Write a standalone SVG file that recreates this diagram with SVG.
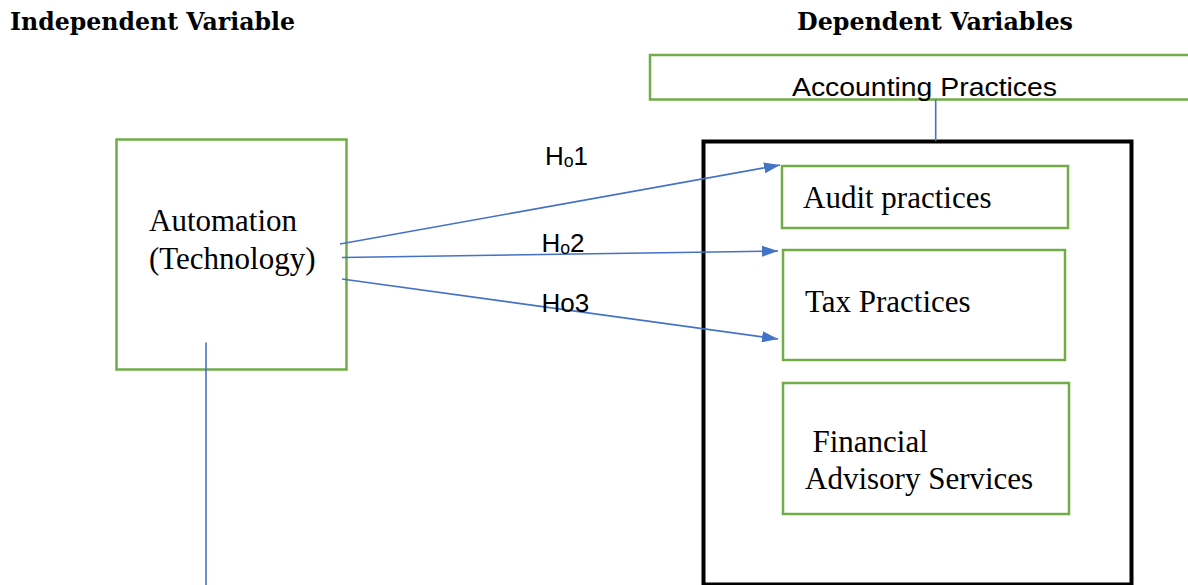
<svg xmlns="http://www.w3.org/2000/svg" width="1188" height="585" viewBox="0 0 1188 585">
<style>
.box{fill:#fff;stroke:#70AD47;stroke-width:2.5}
.hdr{font-family:"DejaVu Serif","Liberation Serif",serif;font-weight:bold;font-size:25px;fill:#000}
.ser{font-family:"Liberation Serif","Times New Roman",serif;font-size:31px;fill:#000}
.san{font-family:"Liberation Sans",Arial,sans-serif;font-size:26px;fill:#000}
.con{stroke:#4472C4;stroke-width:1.6;fill:none}
</style>
<defs>
<marker id="ah" markerUnits="userSpaceOnUse" viewBox="0 0 16 11" markerWidth="16" markerHeight="11" refX="16" refY="5.5" orient="auto">
<path d="M0,0 L16,5.5 L0,11 z" fill="#4472C4"/>
</marker>
</defs>
<rect width="1188" height="585" fill="#fff"/>
<text class="hdr" x="10" y="30" textLength="285" lengthAdjust="spacingAndGlyphs">Independent Variable</text>
<text class="hdr" x="797" y="30" textLength="276" lengthAdjust="spacingAndGlyphs">Dependent Variables</text>

<g id="dep-frame">
<rect x="703.5" y="141.5" width="428" height="443" fill="none" stroke="#000" stroke-width="4"/>
</g>

<g id="accounting">
<rect class="box" x="650" y="55" width="560" height="44.5"/>
<text class="san" x="792" y="96" font-size="28" textLength="265" lengthAdjust="spacingAndGlyphs">Accounting Practices</text>
</g>

<g id="automation">
<rect class="box" x="116.5" y="139.5" width="230" height="230"/>
<text class="ser" x="149" y="231">Automation</text>
<text class="ser" x="149" y="269">(Technology)</text>
</g>

<g id="audit">
<rect class="box" x="782" y="166" width="286" height="62"/>
<text class="ser" x="803" y="208">Audit practices</text>
</g>

<g id="tax">
<rect class="box" x="783" y="250" width="282" height="110"/>
<text class="ser" x="805" y="311.5">Tax Practices</text>
</g>

<g id="financial">
<rect class="box" x="783" y="383" width="286" height="131"/>
<text class="ser" x="812.5" y="451.5">Financial</text>
<text class="ser" x="805" y="489">Advisory Services</text>
</g>

<g id="connectors">
<line class="con" x1="340" y1="244" x2="780" y2="165" marker-end="url(#ah)"/>
<line class="con" x1="342" y1="257.5" x2="778" y2="251" marker-end="url(#ah)"/>
<line class="con" x1="342" y1="279" x2="778" y2="339" marker-end="url(#ah)"/>
<line class="con" x1="206" y1="342.5" x2="206" y2="585" stroke-width="2.2"/>
<line class="con" x1="935.7" y1="99.5" x2="935.7" y2="141" stroke-width="1.6"/>
</g>

<g id="labels">
<text class="san" x="545" y="165">Hₒ1</text>
<text class="san" x="541.5" y="251.5">Hₒ2</text>
<text class="san" x="541.5" y="311.5">Ho3</text>
</g>
</svg>
